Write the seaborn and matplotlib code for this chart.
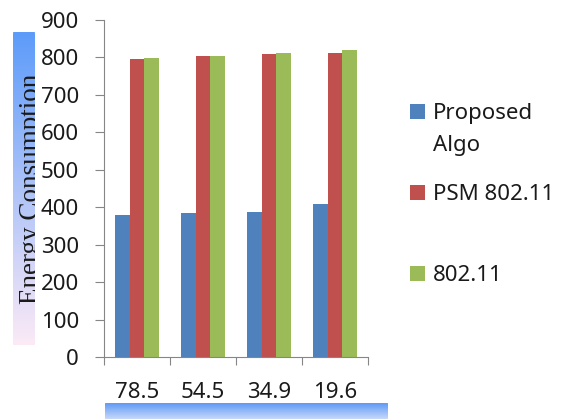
import numpy as np
import pandas as pd
import matplotlib
matplotlib.use("Agg")
import matplotlib.pyplot as plt
import seaborn as sns
from matplotlib.patches import FancyBboxPatch
from matplotlib.ticker import FixedLocator
from matplotlib.transforms import Bbox, TransformedBbox

categories = ["78.5", "54.5", "34.9", "19.6"]
series_names = ["Proposed", "PSM 802.11", "802.11"]
proposed_algo = [378, 385, 388, 409]
psm_80211 = [796, 803, 810, 812]
plain_80211 = [799, 803, 812, 820]
y_ticks = [0, 100, 200, 300, 400, 500, 600, 700, 800, 900]
y_label = "Energy Consumption"
palette = ["#4F81BD", "#C0504D", "#9BBB59"]

df = pd.DataFrame({
    "cat": categories * 3,
    "series": np.repeat(series_names, len(categories)),
    "value": proposed_algo + psm_80211 + plain_80211,
})

sns.set_theme(style="white")
plt.rcParams["font.family"] = ["Noto Sans", "DejaVu Sans"]

W, H = 567, 419
fig = plt.figure(figsize=(W / 100, H / 100), dpi=100)
ax = fig.add_axes([104 / W, 1 - 357 / H, 264 / W, 337 / H])

sns.barplot(data=df, x="cat", y="value", hue="series", palette=palette,
            width=0.68, linewidth=0, saturation=1, ax=ax, legend=True)

axis_grey = "#868686"
ax.set_xlim(-0.5, 3.5)
ax.set_ylim(0, 900)
ax.set_yticks(y_ticks)
ax.set_xlabel("")
ax.set_ylabel("")
for side in ["top", "right"]:
    ax.spines[side].set_visible(False)
for side in ["left", "bottom"]:
    ax.spines[side].set_color(axis_grey)
    ax.spines[side].set_linewidth(0.8)

ax.xaxis.set_minor_locator(FixedLocator([-0.5, 0.5, 1.5, 2.5, 3.5]))
ax.tick_params(axis="x", which="major", length=0, pad=18, labelsize=16, colors="#1a1a1a")
ax.tick_params(axis="x", which="minor", length=6, width=0.8, color=axis_grey, direction="out", bottom=True)
ax.tick_params(axis="y", which="major", length=6.5, width=0.8, color=axis_grey, direction="out",
               left=True, pad=11.5, labelsize=16, labelcolor="#1a1a1a")

# legend on the right
handles, labels = ax.get_legend_handles_labels()
ax.get_legend().remove()
leg = fig.legend(handles, labels, loc="upper left", bbox_to_anchor=(410 / W, 1 - 103 / H),
                 frameon=False, fontsize=16, handlelength=0.68, handleheight=0.68,
                 handletextpad=0.36, labelspacing=2.7, borderaxespad=0, borderpad=0)
for t in leg.get_texts():
    t.set_color("#1a1a1a")

fig.canvas.draw()
renderer = fig.canvas.get_renderer()
bb = leg.get_texts()[0].get_window_extent(renderer)
fig.text(bb.x0 / W, (bb.y1 - 32) / H, "Algo", fontsize=16, color="#1a1a1a",
         ha="left", va="top")


def gradient_box(rect, top_rgb, bottom_rgb):
    bax = fig.add_axes(rect)
    bax.set_axis_off()
    grad = np.linspace(0, 1, 256)[:, None, None]
    top = np.array(top_rgb)[None, None, :] / 255
    bot = np.array(bottom_rgb)[None, None, :] / 255
    img = top * (1 - grad) + bot * grad
    im = bax.imshow(img, aspect="auto", extent=(0, 1, 0, 1), transform=bax.transAxes)
    box = FancyBboxPatch((0, 0), 1, 1, boxstyle="round,pad=0,rounding_size=0.012",
                         transform=bax.transAxes, facecolor="none", edgecolor="none",
                         mutation_aspect=1)
    bax.add_patch(box)
    im.set_clip_path(box)
    return bax, box


# y-axis title text box (text cut off by its box edge)
ybox_ax, ybox = gradient_box([13 / W, 1 - 345 / H, 22 / W, 313 / H],
                             (92, 155, 250), (252, 234, 246))
ytxt = ybox_ax.text(25 / 22, 0.5, y_label, rotation=90, rotation_mode="anchor",
                    ha="center", va="baseline", fontsize=19.5, color="#1a1a1a",
                    family=["Liberation Serif", "DejaVu Serif"], transform=ybox_ax.transAxes)
ytxt.set_clip_path(None)
ytxt.set_clip_box(TransformedBbox(Bbox([[-1, 0], [1, 1]]), ybox_ax.transAxes))
ytxt.set_clip_on(True)

# x-axis title text box, cut off at the bottom edge
gradient_box([105 / W, 0, 283 / W, 16 / H], (88, 150, 245), (200, 216, 250))

fig.savefig("out.png", dpi=100)
